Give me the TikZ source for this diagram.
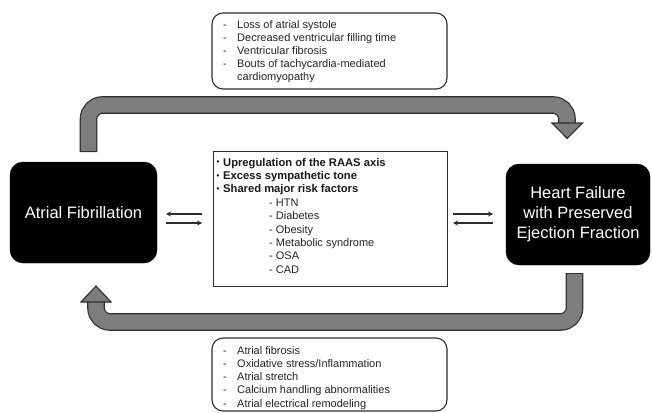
\documentclass[tikz,border=0pt]{standalone}
\usepackage{fontspec}
\setmainfont{Liberation Sans}
\usetikzlibrary{arrows.meta,calc}
\definecolor{edge}{HTML}{2E2E2E}
\definecolor{band}{HTML}{7D7D7D}
\tikzset{
  bigbox/.style={fill=black, draw=black, rounded corners=13pt, text=white, font=\fontsize{16.5}{20}\selectfont, align=center},
  listbox/.style={draw=edge, line width=1.1pt, rounded corners=11pt},
  centerbox/.style={draw=edge, line width=1pt},
  txt/.style={anchor=base west, inner sep=0pt, font=\fontsize{11}{13}\selectfont, text=black!85},
  btxt/.style={anchor=base west, inner sep=0pt, font=\fontsize{11.2}{13}\selectfont\bfseries, text=black!90},
  smallarrow/.style={draw=edge, line width=1.1pt, -{Stealth[length=5pt,width=5pt]}},
  shaftout/.style={draw=edge, line width=17.6pt, rounded corners=14pt},
  shaftin/.style={draw=band, line width=15.2pt, rounded corners=14pt},
  head/.style={fill=band, draw=edge, line width=1.1pt, line join=miter},
}
\begin{document}
\begin{tikzpicture}[x=1pt,y=-1pt]
\useasboundingbox (0,0) rectangle (652,412);
\fill[white] (0,0) rectangle (652,412);

% main boxes
\node[bigbox, minimum width=147pt, minimum height=101pt] (af) at (83.5,212.5) {Atrial Fibrillation};
\node[bigbox, minimum width=144pt, minimum height=101pt] (hf) at (578,214.5) {Heart Failure\\with Preserved\\Ejection Fraction};

% center box
\draw[centerbox] (213,151) rectangle (447,286);
\node[inner sep=0pt, minimum width=234pt, minimum height=135pt] (mid) at (330,218.5) {};
\foreach \y/\t [count=\i] in {166/{Upregulation of the RAAS axis}, 179.4/{Excess sympathetic tone}, 192.8/{Shared major risk factors}}{
  \node[btxt] (mb\i) at (216.5,\y) {\fontsize{8}{8}\selectfont\raisebox{1.2pt}{•}};
  \node[btxt] (mt\i) at (223,\y) {\t};
}
\foreach \y/\t [count=\i] in {206.2/HTN, 219.6/Diabetes, 233/Obesity, 246.4/{Metabolic syndrome}, 259.8/OSA, 273.2/CAD}{
  \node[txt] (ms\i) at (269,\y) {- \t};
}

% top list box
\draw[listbox] (212,13) rectangle (447,89);
\node[inner sep=0pt, minimum width=235pt, minimum height=76pt] (top) at (329.5,51) {};
\foreach \y/\t [count=\i] in {28.5/{Loss of atrial systole}, 41.4/{Decreased ventricular filling time}, 54.3/{Ventricular fibrosis}, 67.2/{Bouts of tachycardia-mediated}}{
  \node[txt] (td\i) at (223,\y) {-};
  \node[txt] (tt\i) at (237,\y) {\t};
}
\node[txt] (tt5) at (237,80.1) {cardiomyopathy};

% bottom list box
\draw[listbox] (212,338) rectangle (447,411);
\node[inner sep=0pt, minimum width=235pt, minimum height=73pt] (bot) at (329.5,374.5) {};
\foreach \y/\t [count=\i] in {354/{Atrial fibrosis}, 367.3/{Oxidative stress/Inflammation}, 380.6/{Atrial stretch}, 393.9/{Calcium handling abnormalities}, 407.2/{Atrial electrical remodeling}}{
  \node[txt] (bd\i) at (223,\y) {-};
  \node[txt] (bt\i) at (237,\y) {\t};
}

% small arrows
\coordinate (l1) at (166,214); \coordinate (l2) at (202,214);
\coordinate (l3) at (166,223); \coordinate (l4) at (202,223);
\coordinate (r1) at (453,214); \coordinate (r2) at (493,214);
\coordinate (r3) at (453,223); \coordinate (r4) at (493,223);
\draw[smallarrow] (l2) -- (l1);
\draw[smallarrow] (l3) -- (l4);
\draw[smallarrow] (r1) -- (r2);
\draw[smallarrow] (r4) -- (r3);

% top thick arrow: AF -> HF
\coordinate (ta0) at (88.5,152);
\coordinate (ta0i) at (88.5,150.8);
\coordinate (ta1) at (88.5,105);
\coordinate (ta2) at (567,105);
\coordinate (ta3) at (567,125);
\draw[shaftout] (ta0) -- (ta1) -- (ta2) -- (ta3);
\draw[shaftin] (ta0i) -- (ta1) -- (ta2) -- (ta3);
\draw[head] (552,123) -- (582.5,123) -- (567.2,138.5) -- cycle;

% bottom thick arrow: HF -> AF
\coordinate (ba0) at (574.5,273);
\coordinate (ba0i) at (574.5,274.2);
\coordinate (ba1) at (574.5,322);
\coordinate (ba2) at (96,322);
\coordinate (ba3) at (96,301);
\draw[shaftout] (ba0) -- (ba1) -- (ba2) -- (ba3);
\draw[shaftin] (ba0i) -- (ba1) -- (ba2) -- (ba3);
\draw[head] (81,302) -- (111,302) -- (96,286) -- cycle;
\end{tikzpicture}
\end{document}
